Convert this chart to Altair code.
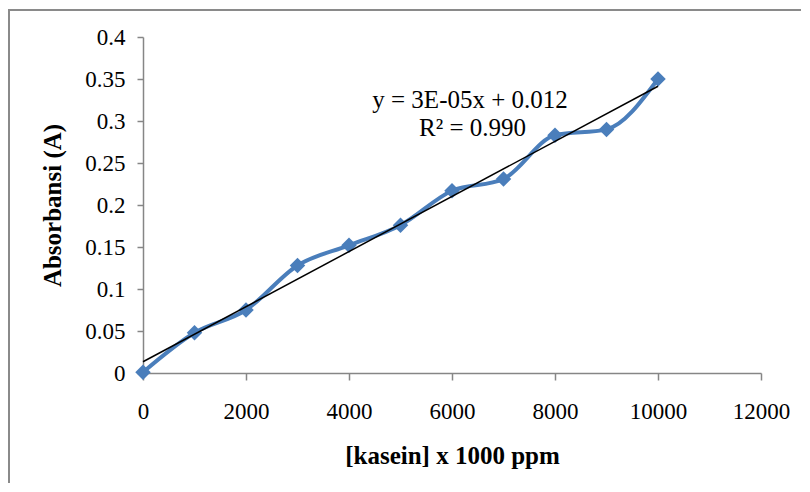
import altair as alt
import pandas as pd

# data
conc = [0, 1000, 2000, 3000, 4000, 5000, 6000, 7000, 8000, 9000, 10000]
absorb = [0.001, 0.048, 0.075, 0.128, 0.152, 0.176, 0.217, 0.231, 0.283, 0.290, 0.350]

eq_x = [6350, 6400]
eq_y = [0.325, 0.292]
eq_text = ["y = 3E-05x + 0.012", "R\u00b2 = 0.990"]

x_ticks = [0, 2000, 4000, 6000, 8000, 10000, 12000]
y_ticks = [0, 0.05, 0.1, 0.15, 0.2, 0.25, 0.3, 0.35, 0.4]

df = pd.DataFrame({"conc": conc, "abs": absorb})
df_eq = pd.DataFrame({"x": eq_x, "y": eq_y, "t": eq_text})

FONT = "Liberation Serif"
BLUE = "#4a7ebb"
GRAY = "#868686"

xs = alt.Scale(domain=[0, 12000], nice=False)
ys = alt.Scale(domain=[0, 0.4], nice=False)

xax = alt.Axis(values=x_ticks, format="d", title="[kasein] x 1000 ppm",
               titleY=82, titleBaseline="middle", labelPadding=20, labelFlush=False,
               tickSize=7)
yax = alt.Axis(values=y_ticks, format="~g", title="Absorbansi (A)",
               titleX=-91, titleY=168, titleBaseline="middle", labelPadding=12,
               labelFlush=False, tickSize=6)

base = alt.Chart(df)

frame = alt.Chart(df).mark_rect(filled=False, stroke="#8a8a8a", strokeWidth=1.5).encode(
    x=alt.value(-134), x2=alt.value(800), y=alt.value(-27), y2=alt.value(500)
)

line = base.mark_line(interpolate="monotone", color=BLUE, strokeWidth=4).encode(
    x=alt.X("conc:Q", scale=xs, axis=xax),
    y=alt.Y("abs:Q", scale=ys, axis=yax),
)

pts = base.mark_point(shape="diamond", filled=True, size=240, color=BLUE, opacity=1).encode(
    x=alt.X("conc:Q", scale=xs),
    y=alt.Y("abs:Q", scale=ys),
)

trend = base.transform_regression("conc", "abs").mark_line(color="black", strokeWidth=1.5).encode(
    x=alt.X("conc:Q", scale=xs),
    y=alt.Y("abs:Q", scale=ys),
)

txt = alt.Chart(df_eq).mark_text(font=FONT, fontSize=25, color="black", align="center",
                                 baseline="middle").encode(
    x=alt.X("x:Q", scale=xs),
    y=alt.Y("y:Q", scale=ys),
    text="t:N",
)

chart = alt.layer(frame, line, pts, trend, txt).properties(
    width=618, height=336,
    autosize=alt.AutoSizeParams(type="none"),
    padding={"left": 135, "top": 29, "right": 40, "bottom": 110},
    background="white",
).configure_view(stroke=None).configure_axis(
    grid=False, domainColor=GRAY, tickColor=GRAY, domainWidth=1.5, tickWidth=1.5,
    labelFont=FONT, labelFontSize=23, labelColor="black",
    titleFont=FONT, titleFontSize=25, titleFontWeight="bold", titleColor="black",
)

chart.save("out.html", embed_options={"renderer": "svg", "actions": False})
